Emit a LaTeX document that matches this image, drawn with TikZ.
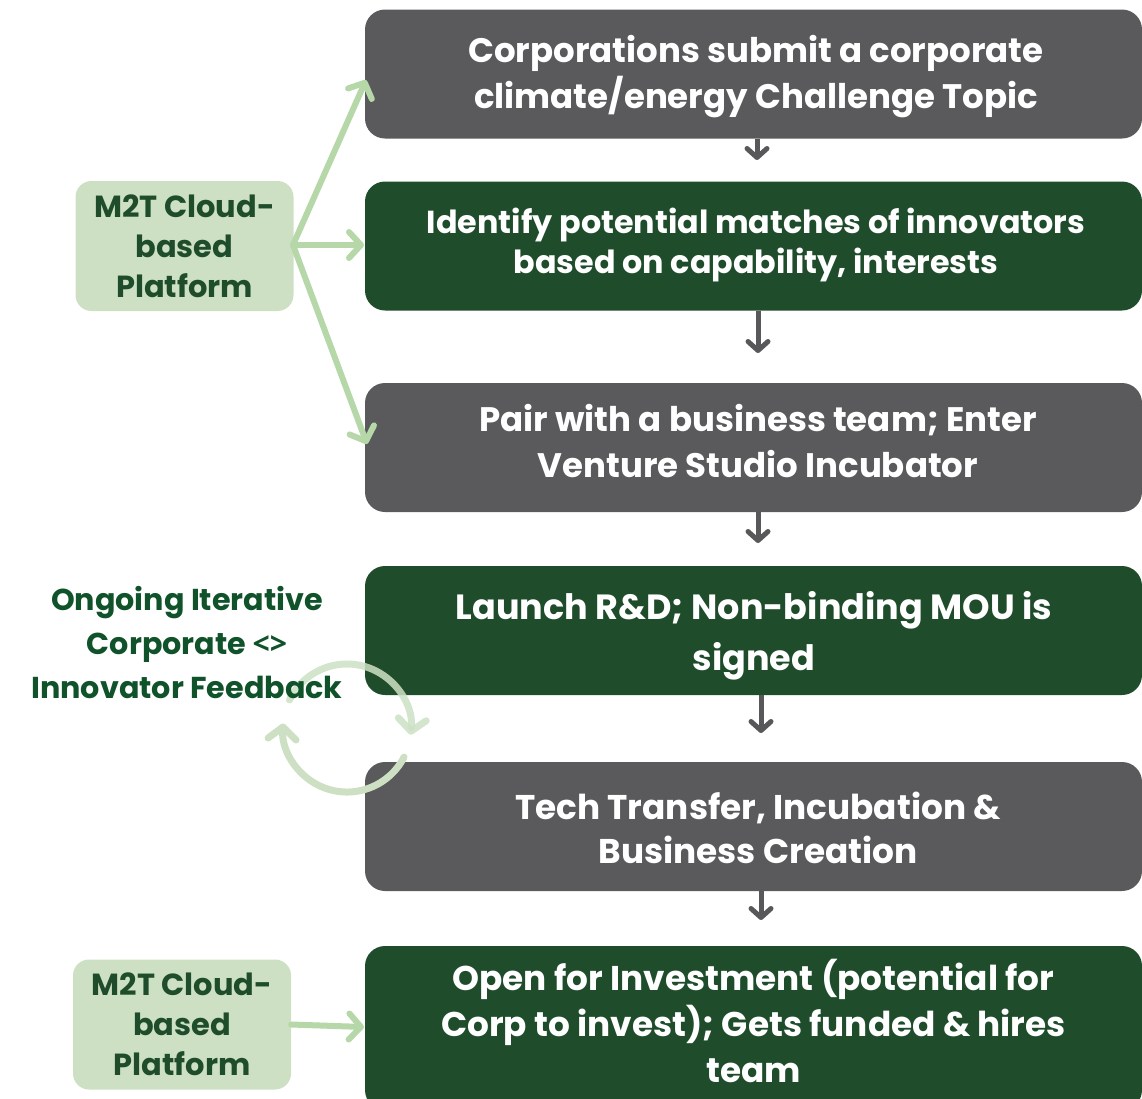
\documentclass[tikz,border=0pt]{standalone}
\usepackage{fontspec}
\setmainfont{Poppins}
\newfontfamily\bracketfont{Open Sans}
\usetikzlibrary{arrows.meta}
\definecolor{stepgray}{HTML}{5A5A5C}
\definecolor{stepgreen}{HTML}{1F4D2B}
\definecolor{paleboxgreen}{HTML}{CDE0C4}
\definecolor{linkgreen}{HTML}{B6D7A8}
\definecolor{loopgreen}{HTML}{CDE0C4}
\definecolor{labelgreen}{HTML}{10522A}
\definecolor{flowgray}{HTML}{58585A}
\begin{document}
\begin{tikzpicture}[x=1pt,y=-1pt,
  stepbox/.style={rounded corners=20pt, minimum width=777pt, minimum height=129pt, inner sep=0pt},
  graystep/.style={stepbox, fill=stepgray},
  greenstep/.style={stepbox, fill=stepgreen},
  steptext/.style={text=white, align=center, inner sep=0pt},
  platformbox/.style={rounded corners=16pt, fill=paleboxgreen, minimum width=218pt,
    minimum height=130pt, text=stepgreen, font=\fontsize{30.5}{40}\selectfont\bfseries,
    align=center, inner sep=0pt},
  flowarrow/.style={draw=flowgray, line width=5pt,
    -{Straight Barb[length=9pt, width=20pt, line cap=round, line join=round]}},
  linkarrow/.style={draw=linkgreen, line width=6pt, line cap=round,
    -{Straight Barb[length=12pt, width=26pt, line cap=round, line join=round]}},
  looparrow/.style={draw=loopgreen, line width=7pt, line cap=round,
    -{Straight Barb[length=12pt, width=28pt, line cap=round, line join=round]}}
]
\useasboundingbox (0,0) rectangle (1142,1098);

% main process steps
\node[graystep]  (s1) at (753.5,74)    {};
\node[greenstep] (s2) at (753.5,246)   {};
\node[graystep]  (s3) at (753.5,447.5) {};
\node[greenstep] (s4) at (753.5,630.5) {};
\node[graystep]  (s5) at (753.5,826.5) {};
\node[greenstep, minimum height=164pt] (s6) at (753.5,1028) {};

\node[steptext, font=\fontsize{34}{46}\selectfont\bfseries] (t1) at (756,77)
  {Corporations submit a corporate\\climate/energy Challenge Topic};
\node[steptext, font=\fontsize{31.8}{40}\selectfont\bfseries] (t2) at (756,245)
  {Identify potential matches of innovators\\based on capability, interests};
\node[steptext, font=\fontsize{34}{46}\selectfont\bfseries] (t3) at (758,441)
  {Pair with a business team; Enter\\Venture Studio Incubator};
\node[steptext, font=\fontsize{35}{51}\selectfont\bfseries] (t4) at (754,636)
  {Launch R\&D; Non-binding MOU is\\signed};
\node[steptext, font=\fontsize{34.3}{44}\selectfont\bfseries] (t5) at (758,827.5)
  {Tech Transfer, Incubation \&\\Business Creation};
\node[steptext, font=\fontsize{34.3}{46}\selectfont\bfseries] (t6) at (753.5,1021)
  {Open for Investment (potential for\\Corp to invest); Gets funded \& hires\\team};

% arrows between steps
\draw[flowarrow] (s1.south -| 757,0) -- (757,160);
\draw[flowarrow] (s2.south -| 758,0) -- (758,353);
\draw[flowarrow] (s3.south -| 758,0) -- (758,543);
\draw[flowarrow] (s4.south -| 761,0) -- (761,733);
\draw[flowarrow] (s5.south -| 761,0) -- (761,920);

% platform boxes
\node[platformbox] (p1) at (184.5,246) {M2T Cloud-\\based\\Platform};
\node[platformbox] (p2) at (182,1024.5) {M2T Cloud-\\based\\Platform};

\coordinate (hub) at (293,245);
\draw[linkarrow] (hub) -- (366,80);
\draw[linkarrow] (hub) -- (364,245);
\draw[linkarrow] (hub) -- (367,444);
\draw[linkarrow] (p2.east) -- (364,1027);

% feedback loop
\coordinate (loopc) at (347,728);
\draw[looparrow, opacity=0.85] ([shift={(-154:64)}]loopc) arc[start angle=-154, end angle=6, radius=64];
\draw[looparrow] ([shift={(27:64)}]loopc) arc[start angle=27, end angle=184, radius=64];
\node[text=labelgreen, font=\fontsize{30.2}{44}\selectfont\bfseries, align=center, inner sep=0pt] (fb) at (187,643)
  {Ongoing Iterative\\Corporate {\bracketfont\bfseries <>}\\Innovator Feedback};
\end{tikzpicture}
\end{document}
